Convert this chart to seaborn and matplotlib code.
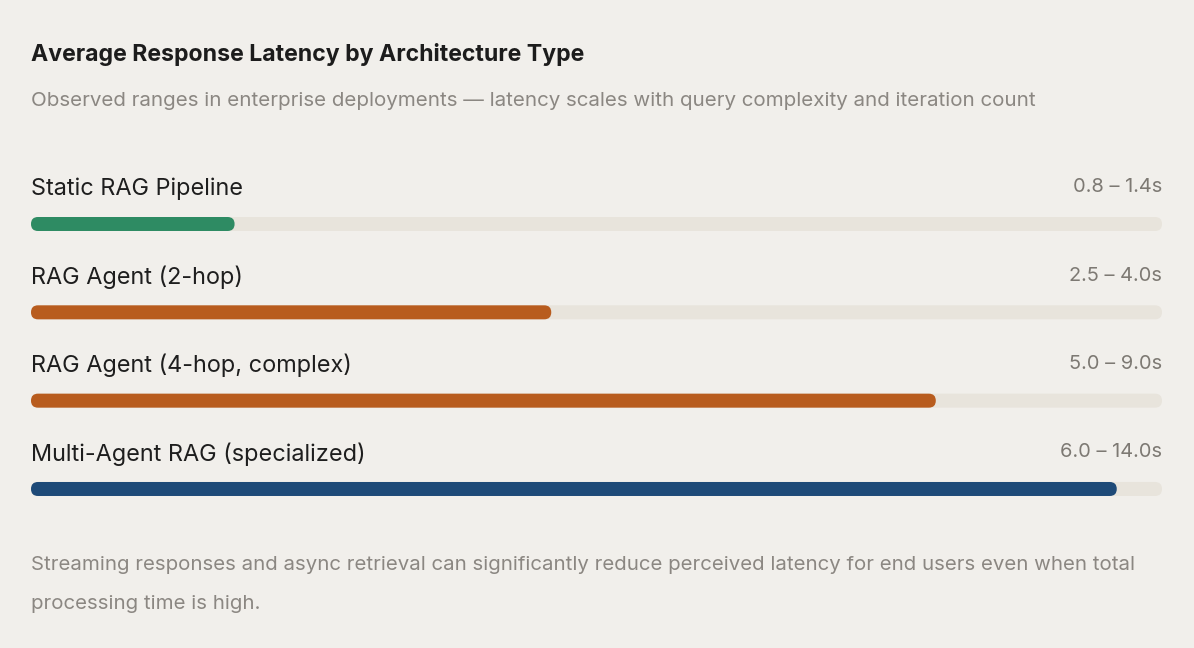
import matplotlib
matplotlib.use("Agg")
import matplotlib.pyplot as plt
from matplotlib.patches import FancyBboxPatch
import seaborn as sns
import pandas as pd

# data
architectures = ["Static RAG Pipeline", "RAG Agent (2-hop)",
                 "RAG Agent (4-hop, complex)", "Multi-Agent RAG (specialized)"]
range_labels = ["0.8 – 1.4s", "2.5 – 4.0s", "5.0 – 9.0s", "6.0 – 14.0s"]
bar_pct = [18, 46, 80, 96]
track_pct = [100, 100, 100, 100]
bar_colors = ["#2e8b63", "#b85c1e", "#b85c1e", "#1e4a78"]

title = "Average Response Latency by Architecture Type"
subtitle = ("Observed ranges in enterprise deployments — latency scales with "
            "query complexity and iteration count")
footer_lines = ["Streaming responses and async retrieval can significantly reduce perceived "
                "latency for end users even when total",
                "processing time is high."]

BG = "#f1efeb"
TRACK = "#e8e4dc"

sns.set_theme(style="white")
plt.rcParams["font.family"] = ["Inter", "DejaVu Sans"]

W, H = 1194, 648
fig = plt.figure(figsize=(W / 100, H / 100), dpi=100, facecolor=BG)


def fx(x):
    return x / W


def fy(y):
    return 1 - y / H


# axes laid out in pixels: bars from x=31 to 1162, rows 88.33 px apart
left, right = 31, 1162
row_px = 88.33
first_row = 224
ax_top = first_row - row_px / 2
ax_h = row_px * len(architectures)
ax = fig.add_axes([fx(left), fy(ax_top + ax_h), (right - left) / W, ax_h / H])
ax.set_facecolor(BG)

bar_px = 14
bar_w = bar_px / row_px

df = pd.DataFrame({"arch": architectures, "pct": bar_pct, "track": track_pct})
sns.barplot(data=df, x="track", y="arch", orient="h", color=TRACK,
            width=bar_w, ax=ax, saturation=1)
sns.barplot(data=df, x="pct", y="arch", orient="h", hue="arch",
            palette=bar_colors, width=bar_w, ax=ax, legend=False, saturation=1)

ax.set_xlim(0, 100)
ax.set_ylim(len(architectures) - 0.5, -0.5)

# turn the rectangles into pills
px_per_x = (right - left) / 100
radius = (bar_px / 2) / px_per_x
aspect = (1 / row_px) / (1 / px_per_x)
for p in list(ax.patches):
    x0, y0, w, h = p.get_x(), p.get_y(), p.get_width(), p.get_height()
    fc = p.get_facecolor()
    p.remove()
    ax.add_patch(FancyBboxPatch((x0, y0), w, h,
                                boxstyle=f"round,pad=0,rounding_size={radius}",
                                mutation_aspect=aspect, fc=fc, ec="none"))

label_off = 35 / row_px
for i, (name, rng) in enumerate(zip(architectures, range_labels)):
    ax.text(0, i - label_off, name, ha="left", va="center",
            fontsize=16.9, color="#1e1e1e")
    ax.text(100, i - label_off - 0.02, rng, ha="right", va="center",
            fontsize=14.4, color="#7d7973")

ax.axis("off")

fig.text(fx(31), fy(54), title, ha="left", va="center",
         fontsize=16.6, fontweight="bold", color="#1c1c1c")
fig.text(fx(31), fy(101), subtitle, ha="left", va="center",
         fontsize=14.8, color="#8b8782")
for k, line in enumerate(footer_lines):
    fig.text(fx(31), fy(565 + 39 * k), line, ha="left", va="center",
             fontsize=14.7, color="#8b8782")

fig.savefig("out.png", dpi=100, facecolor=BG)
